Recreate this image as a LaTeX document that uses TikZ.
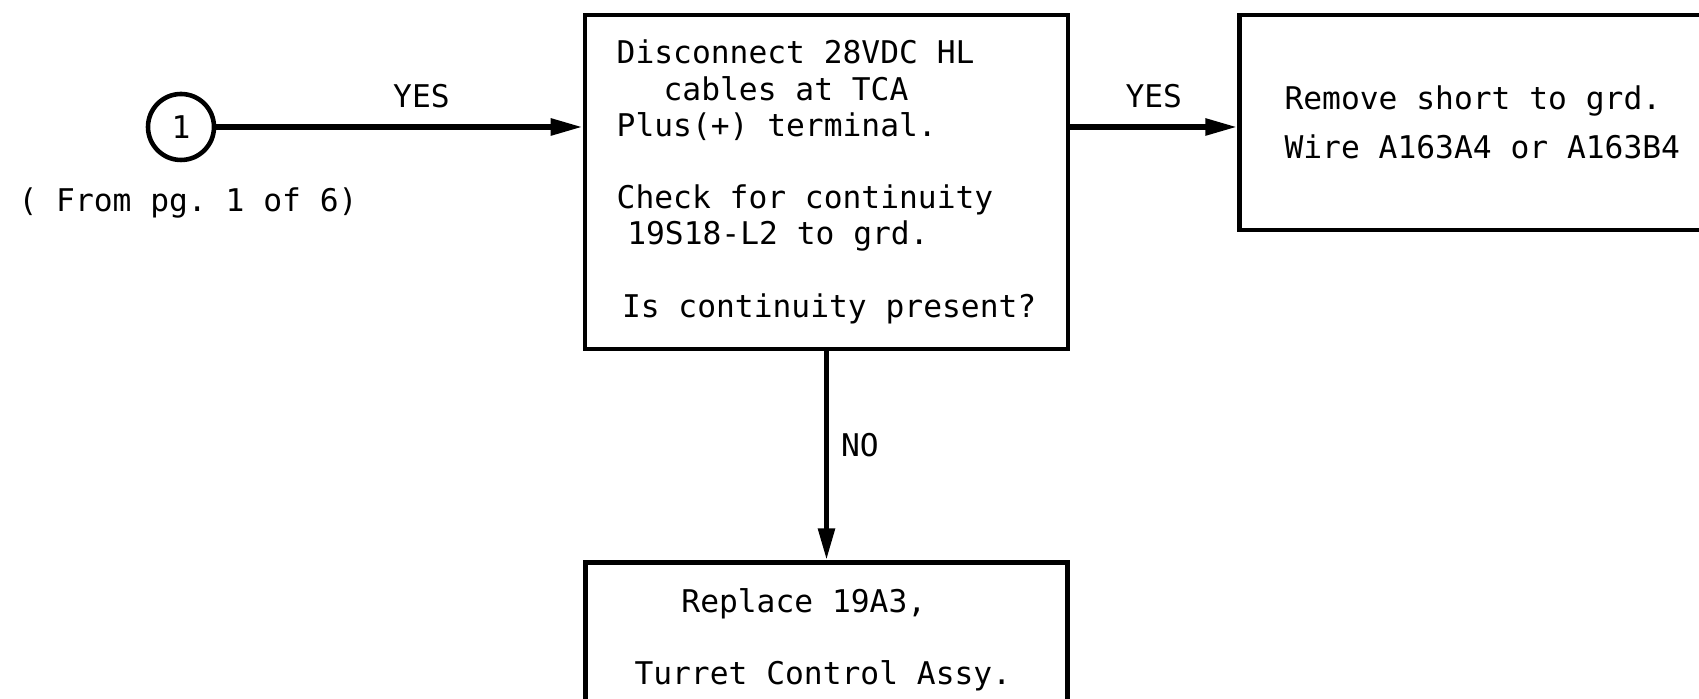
\documentclass[tikz,border=0pt]{standalone}
\usepackage{fontspec}
\setmainfont{DejaVu Sans Mono}[WordSpace={1,0,0}, PunctuationSpace=WordSpace]
\usetikzlibrary{positioning, arrows.meta}

\begin{document}
\begin{tikzpicture}[
    font=\fontsize{8.9}{10.3}\selectfont,
    block/.style={rectangle, draw, line width=1.3pt, align=flush left, inner ysep=0pt},
    connector/.style={circle, draw, line width=1.3pt, minimum size=0.66cm, inner sep=0pt},
    line/.style={draw, line width=1.6pt, -{Triangle[length=0.32cm, width=0.16cm]}}
]
\useasboundingbox (0,0) rectangle (16.99,6.99);
\clip (0,0) rectangle (16.99,6.99);

\node [connector] (one) at (1.81,5.72) {1};
\node [below=0.13cm of one, xshift=0.07cm] (frompg) {( From pg. 1 of 6)};
\node [block, minimum width=4.83cm, minimum height=3.34cm] (check) at (8.265,5.17) {Disconnect 28VDC HL\\
\hspace*{1.5em}cables at TCA\\
Plus(+) terminal.\\[10.3pt]
Check for continuity\\
\hspace*{0.34em}19S18-L2 to grd.\\[10.3pt]
\hspace*{0.17em}Is continuity present?};
\node [block, right=1.67cm of check.north east, anchor=north west, text width=4.3cm, inner xsep=0.45cm, minimum height=2.15cm, font=\fontsize{8.9}{13.8}\selectfont] (remove) {Remove short to grd.\\Wire A163A4 or A163B4};
\node [block, below=2.09cm of check, text width=3.84cm, inner xsep=0.49cm, minimum height=1.54cm, font=\fontsize{8.9}{20.4}\selectfont] (replace) {\hspace*{1.5em}Replace 19A3,\\Turret Control Assy.};

\path [line] (one) -- node [above, pos=0.56, yshift=0.05cm] (yesin) {YES} (one -| check.west);
\path [line] (check.east |- one) -- node [above, yshift=0.05cm] (yesout) {YES} (remove.west |- one);
\path [line] (check) -- node [right, pos=0.45] (no) {NO} (replace);

\end{tikzpicture}
\end{document}
